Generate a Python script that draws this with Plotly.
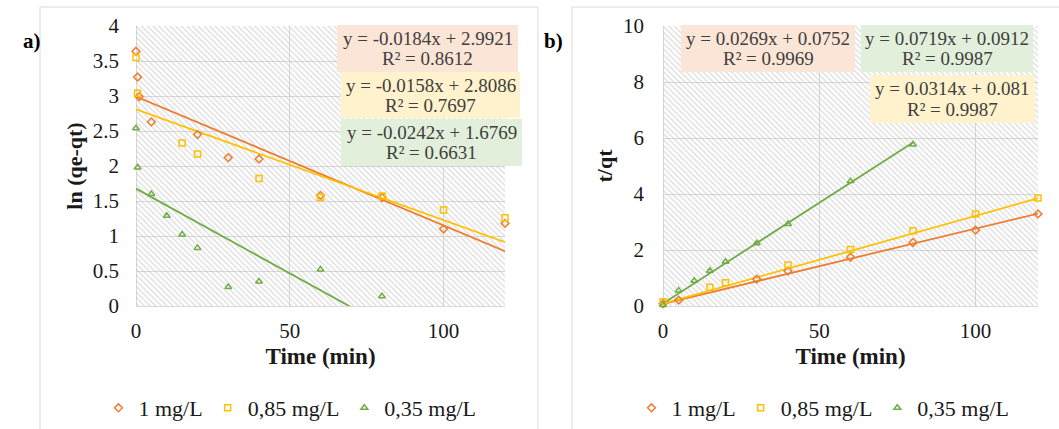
import numpy as np
import plotly.graph_objects as go

W, H = 1059, 429

# ---------------- data ----------------
series_names = ["1 mg/L", "0,85 mg/L", "0,35 mg/L"]
colors = ["#ED7D31", "#FFC000", "#70AD47"]
symbols = ["diamond-open", "square-open", "triangle-up-open"]

# panel a) ln(qe-qt) vs time
t_a_1 = [0, 0.5, 1, 5, 20, 30, 40, 60, 80, 100, 120]
y_a_1 = [3.64, 3.27, 2.99, 2.63, 2.45, 2.12, 2.10, 1.58, 1.55, 1.10, 1.18]
t_a_2 = [0, 0.5, 15, 20, 40, 60, 80, 100, 120]
y_a_2 = [3.55, 3.04, 2.33, 2.17, 1.82, 1.55, 1.57, 1.37, 1.26]
t_a_3 = [0, 0.5, 5, 10, 15, 20, 30, 40, 60, 80]
y_a_3 = [2.54, 1.98, 1.60, 1.29, 1.02, 0.83, 0.27, 0.35, 0.52, 0.14]
slope_a = [-0.0184, -0.0158, -0.0242]
icpt_a = [2.9921, 2.8086, 1.6769]
r2_a = [0.8612, 0.7697, 0.6631]

# panel b) t/qt vs time
t_b_1 = [0, 5, 30, 40, 60, 80, 100, 120]
y_b_1 = [0.08, 0.21, 0.96, 1.25, 1.74, 2.27, 2.71, 3.29]
t_b_2 = [0, 15, 20, 40, 60, 80, 100, 120]
y_b_2 = [0.15, 0.67, 0.83, 1.46, 2.02, 2.69, 3.29, 3.86]
t_b_3 = [0, 5, 10, 15, 20, 30, 40, 60, 80]
y_b_3 = [0.04, 0.55, 0.90, 1.26, 1.58, 2.24, 2.93, 4.46, 5.77]
slope_b = [0.0269, 0.0314, 0.0719]
icpt_b = [0.0752, 0.081, 0.0912]
r2_b = [0.9969, 0.9987, 0.9987]

x_ticks = [0, 50, 100]
x_range = [0, 120]
ya_range = [0, 4]
yb_range = [0, 10]

# ---------------- helpers ----------------
def px(x):
    return x / W

def py(y):
    return 1 - y / H

FONT = "Liberation Serif"
GRID = "#d9d9d9"

fig = go.Figure()

data_a = [(t_a_1, y_a_1), (t_a_2, y_a_2), (t_a_3, y_a_3)]
data_b = [(t_b_1, y_b_1), (t_b_2, y_b_2), (t_b_3, y_b_3)]

def add_panel(xa, ya, data, slopes, icpts, yr, legend):
    # hatched plot area background
    fig.add_trace(go.Scatter(
        x=[x_range[0], x_range[1], x_range[1], x_range[0], x_range[0]],
        y=[yr[0], yr[0], yr[1], yr[1], yr[0]],
        xaxis=xa, yaxis=ya, mode="none", fill="toself",
        fillcolor="rgba(0,0,0,0)",
        fillpattern=dict(shape="\\", fgcolor="#b8b8b8", bgcolor="rgba(0,0,0,0)",
                         size=4, solidity=0.32),
        hoverinfo="skip", showlegend=False))
    # trendlines
    for (t, y), m, b, c in zip(data, slopes, icpts, colors):
        xs = np.array([min(t), max(t)], dtype=float)
        fig.add_trace(go.Scatter(
            x=xs, y=m * xs + b, xaxis=xa, yaxis=ya, mode="lines",
            line=dict(color=c, width=1.8), hoverinfo="skip", showlegend=False))
    # markers
    for (t, y), name, c, s in zip(data, series_names, colors, symbols):
        fig.add_trace(go.Scatter(
            x=t, y=y, xaxis=xa, yaxis=ya, mode="markers", name=name,
            marker=dict(symbol=s, size=6, color=c, line=dict(color=c, width=1.5)),
            cliponaxis=False, legend=legend))

add_panel("x", "y", data_a, slope_a, icpt_a, ya_range, "legend")
add_panel("x2", "y2", data_b, slope_b, icpt_b, yb_range, "legend2")

ydom = [py(306), py(26)]
axis_common = dict(
    showgrid=True, gridcolor=GRID, gridwidth=1.3, zeroline=True,
    zerolinecolor=GRID, zerolinewidth=1.3, showline=False, ticks="",
    tickfont=dict(family=FONT, size=21, color="#1a1a1a"),
    fixedrange=True, automargin=False,
)
title_font = dict(family=FONT, size=23, weight="bold", color="#1a1a1a")
ytitle_font = dict(family=FONT, size=22, weight="bold", color="#1a1a1a")
fig.update_layout(
    width=W, height=H,
    margin=dict(l=0, r=0, t=0, b=0),
    paper_bgcolor="white", plot_bgcolor="white",
    font=dict(family=FONT, color="#1a1a1a"),
    xaxis=dict(domain=[px(136), px(505)], range=x_range, tickvals=x_ticks,
               ticklabelstandoff=10,
               title=dict(text="Time (min)", font=title_font, standoff=5),
               anchor="y", **axis_common),
    yaxis=dict(domain=ydom, range=ya_range, dtick=0.5,
               ticklabelstandoff=16,
               title=dict(text="ln (qe-qt)", font=ytitle_font, standoff=4),
               anchor="x", **axis_common),
    xaxis2=dict(domain=[px(663), px(1038)], range=x_range, tickvals=x_ticks,
                ticklabelstandoff=10,
                title=dict(text="Time (min)", font=title_font, standoff=5),
                anchor="y2", **axis_common),
    yaxis2=dict(domain=ydom, range=yb_range, dtick=2,
                ticklabelstandoff=18,
                title=dict(text="t/qt", font=ytitle_font, standoff=4),
                anchor="x2", **axis_common),
    legend=dict(orientation="h", x=px(290), y=py(408), xanchor="center", yanchor="middle",
                font=dict(family=FONT, size=22, color="#1a1a1a"), bgcolor="rgba(0,0,0,0)",
                itemwidth=30),
    legend2=dict(orientation="h", x=px(823), y=py(408), xanchor="center", yanchor="middle",
                 font=dict(family=FONT, size=22, color="#1a1a1a"), bgcolor="rgba(0,0,0,0)",
                 itemwidth=30),
)

# chart-area borders
for x0, x1 in [(40, 538), (572, 1070)]:
    fig.add_shape(type="rect", xref="paper", yref="paper",
                  x0=px(x0), x1=px(x1), y0=py(440), y1=py(7),
                  line=dict(color="#d9d9d9", width=1), fillcolor="rgba(0,0,0,0)",
                  layer="below")

# panel labels
for txt, xc in [("a)", 21), ("b)", 554)]:
    fig.add_annotation(text=f"<b>{txt}</b>", xref="paper", yref="paper",
                       x=px(xc), y=py(27), showarrow=False,
                       font=dict(family=FONT, size=21, color="#000000"))

# equation boxes (left, top, width, height in px)
boxes_a = [(337, 25, 181, 47), (341, 72, 179, 46), (341, 119, 181, 47)]
boxes_b = [(681, 25, 174, 47), (870, 75, 165, 48), (861, 25, 172, 47)]
bgs = ["#FBE5D6", "#FFF2CC", "#E2EFDA"]

def eq_line(m, b):
    sign = "+" if b >= 0 else "-"
    return f"y = {m:g}x {sign} {abs(b):g}"

for boxes, slopes, icpts, r2s in [(boxes_a, slope_a, icpt_a, r2_a),
                                  (boxes_b, slope_b, icpt_b, r2_b)]:
    for (l, t, w, h), m, b, r2, bg in zip(boxes, slopes, icpts, r2s, bgs):
        fig.add_shape(type="rect", xref="paper", yref="paper",
                      x0=px(l), x1=px(l + w), y0=py(t + h), y1=py(t),
                      line=dict(width=0), fillcolor=bg, layer="above")
        cx = px(l + w / 2)
        fig.add_annotation(text=eq_line(m, b), xref="paper", yref="paper",
                           x=cx, y=py(t + h * 0.29), xanchor="center", yanchor="middle",
                           showarrow=False,
                           font=dict(family=FONT, size=19, color="#404040"))
        fig.add_annotation(text=f"R² = {r2:.4f}", xref="paper", yref="paper",
                           x=cx, y=py(t + h * 0.72), xanchor="center", yanchor="middle",
                           showarrow=False,
                           font=dict(family=FONT, size=19, color="#404040"))

fig.write_html("out.html")
